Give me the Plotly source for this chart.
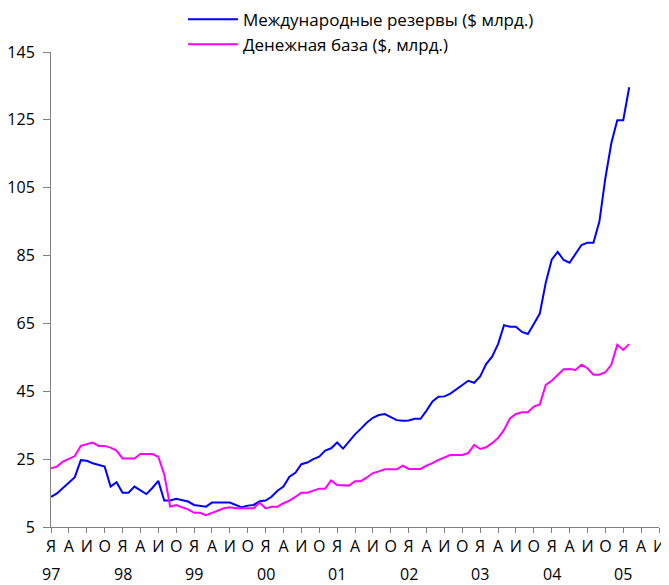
import plotly.graph_objects as go

# monthly data, Jan 1997 .. Feb 2005 (index 0 = Jan 1997)
reserves = [13.9, 14.9, 16.5, 18.0, 19.7, 24.7, 24.5, 23.8, 23.3, 22.8,
            16.9, 18.2, 15.1, 15.1, 16.9, 15.8, 14.7, 16.5, 18.6, 12.8,
            12.8, 13.3, 12.9, 12.5, 11.5, 11.2, 11.0, 12.2, 12.2, 12.2,
            12.2, 11.5, 10.8, 11.3, 11.5, 12.6, 12.8, 13.9, 15.7, 16.9,
            19.8, 21.0, 23.5, 24.0, 25.0, 25.7, 27.5, 28.2, 29.9, 28.1,
            30.3, 32.3, 34.0, 35.8, 37.2, 38.0, 38.3, 37.4, 36.5, 36.3,
            36.4, 36.9, 36.9, 39.3, 42.0, 43.4, 43.5, 44.3, 45.6, 46.7,
            48.1, 47.5, 49.4, 53.0, 55.2, 58.9, 64.5, 64.0, 64.0, 62.5,
            61.9, 64.8, 67.9, 77.0, 83.8, 86.1, 83.7, 82.9, 85.6, 88.1,
            88.8, 88.8, 95.0, 107.8, 118.1, 124.9, 124.9, 134.6]

money_base = [22.3, 22.8, 24.3, 25.2, 25.9, 28.9, 29.5, 29.9, 28.9, 28.9,
              28.4, 27.5, 25.2, 25.2, 25.2, 26.5, 26.5, 26.5, 25.7, 20.5,
              11.0, 11.5, 10.8, 10.2, 9.2, 9.2, 8.5, 9.2, 10.0, 10.5,
              10.8, 10.5, 10.5, 10.5, 10.5, 12.2, 10.5, 11.0, 11.0, 12.0,
              12.8, 13.9, 15.1, 15.1, 15.7, 16.3, 16.3, 18.7, 17.4, 17.2,
              17.2, 18.5, 18.5, 19.6, 20.9, 21.4, 22.0, 22.0, 22.0, 23.1,
              22.1, 22.1, 22.1, 23.1, 23.8, 24.8, 25.5, 26.2, 26.2, 26.2,
              26.8, 29.2, 28.0, 28.5, 29.7, 31.2, 33.6, 37.0, 38.3, 38.8,
              38.8, 40.5, 41.1, 46.9, 48.1, 49.8, 51.5, 51.6, 51.3, 52.8,
              51.8, 49.9, 49.9, 50.6, 52.8, 58.7, 57.2, 58.9]

months = list(range(len(reserves)))

quarter_letters = ["Я", "А", "И", "О"]
years = ["97", "98", "99", "00", "01", "02", "03", "04", "05"]
n_quarters = 35  # Jan 1997 .. Jul 2005
tick_vals = [3 * q for q in range(n_quarters)]
tick_text = [quarter_letters[q % 4] for q in range(n_quarters)]
year_positions = [12 * k for k in range(len(years))]

y_ticks = [5, 25, 45, 65, 85, 105, 125, 145]

font_family = "Open Sans, Liberation Sans, Arial, sans-serif"

fig = go.Figure()
fig.add_trace(go.Scatter(x=months, y=reserves, mode="lines",
                         name="Международные резервы ($ млрд.)",
                         line=dict(color="#0000FF", width=2)))
fig.add_trace(go.Scatter(x=months, y=money_base, mode="lines",
                         name="Денежная база ($, млрд.)",
                         line=dict(color="#FF00FF", width=2)))

for yr, pos in zip(years, year_positions):
    fig.add_annotation(x=pos, y=0, xref="x", yref="paper",
                       text=yr, showarrow=False, yshift=-47,
                       xanchor="center", yanchor="middle",
                       font=dict(size=16, color="black"))

# the page body adds an 8px offset, so the figure is 8px smaller
fig.update_layout(
    width=661, height=577,
    margin=dict(l=43, r=10, t=44, b=58, autoexpand=False),
    paper_bgcolor="white", plot_bgcolor="white",
    font=dict(family=font_family, size=16, color="black"),
    showlegend=True,
    legend=dict(x=0.217, y=1.106, xanchor="left", yanchor="top",
                bgcolor="rgba(0,0,0,0)", font=dict(size=17),
                itemwidth=50, tracegroupgap=0),
    xaxis=dict(range=[0, 102], tickmode="array", tickvals=tick_vals,
               ticktext=tick_text, ticks="outside", ticklen=5,
               tickcolor="#808080", showline=True, linecolor="#808080",
               linewidth=1, showgrid=False, zeroline=False,
               tickangle=0, tickfont=dict(size=16), automargin=False),
    yaxis=dict(range=[5, 145], tickmode="array", tickvals=y_ticks,
               ticks="outside", ticklen=7, tickcolor="#808080",
               showline=True, linecolor="#808080", linewidth=1,
               showgrid=False, zeroline=False, tickfont=dict(size=16),
               automargin=False, ticklabelstandoff=5),
)

fig.write_html("out.html")
